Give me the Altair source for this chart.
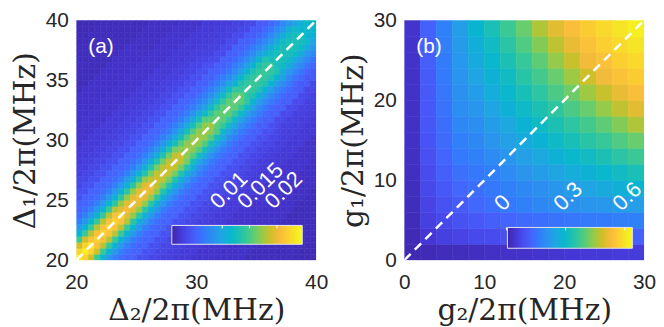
import altair as alt
import numpy as np
import pandas as pd

# ---------------- data ----------------
# Panel (a): value on the band around the diagonal.
# rows: centre position along the diagonal (Delta1+Delta2)/2  [MHz]
# cols: distance from the diagonal |Delta1-Delta2|            [MHz]
A_S = [20, 22.5, 25, 27.5, 30, 32.5, 35, 37.5, 40]
A_D = [0, 0.5, 1, 1.5, 2, 2.5, 3, 3.5, 4, 5, 6, 7, 8, 10, 12, 15, 20]
A_VAL_E3 = [
    [23.9, 22.2, 18.9, 14.6, 11.3, 8.9, 7.2, 6.0, 5.3, 4.1, 3.4, 2.9, 2.6, 2.1, 1.9, 1.5, 1.3],
    [22.2, 21.0, 18.2, 14.4, 11.3, 8.9, 7.2, 6.0, 5.3, 4.1, 3.4, 2.9, 2.6, 2.1, 1.9, 1.5, 1.3],
    [20.6, 19.6, 17.2, 13.9, 11.0, 8.9, 7.2, 6.0, 5.3, 4.1, 3.4, 2.9, 2.6, 2.1, 1.9, 1.5, 1.3],
    [19.1, 18.4, 16.3, 13.4, 10.8, 8.7, 7.2, 6.0, 5.3, 4.1, 3.4, 2.9, 2.6, 2.1, 1.9, 1.5, 1.3],
    [17.5, 17.0, 15.3, 12.7, 10.3, 8.4, 7.0, 6.0, 5.3, 4.1, 3.4, 2.9, 2.6, 2.1, 1.9, 1.5, 1.3],
    [15.8, 15.6, 14.1, 12.0, 9.8, 8.2, 7.0, 6.0, 5.1, 4.0, 3.3, 2.8, 2.5, 2.1, 1.8, 1.5, 1.3],
    [14.4, 14.1, 13.2, 11.3, 9.4, 7.9, 6.8, 5.8, 5.1, 3.6, 3.0, 2.7, 2.5, 2.0, 1.8, 1.5, 1.3],
    [12.9, 12.7, 12.0, 10.6, 8.9, 7.7, 6.5, 5.6, 4.8, 3.5, 3.0, 2.6, 2.3, 2.0, 1.8, 1.5, 1.3],
    [11.7, 11.5, 11.0, 9.8, 8.4, 7.2, 6.3, 5.3, 4.6, 3.4, 2.9, 2.5, 2.2, 1.8, 1.6, 1.5, 1.3],
]

# Panel (b): grid of cell centres g1 (rows) x g2 (cols), MHz
B_G = [1, 3, 5, 7, 9, 11, 13, 15, 17, 19, 21, 23, 25, 27, 29]
B_VAL = [
    [0.015, 0.018, 0.021, 0.024, 0.027, 0.030, 0.033, 0.036, 0.039, 0.042, 0.045, 0.048, 0.050, 0.052, 0.054],
    [0.018, 0.045, 0.062, 0.068, 0.078, 0.084, 0.090, 0.097, 0.103, 0.106, 0.109, 0.113, 0.116, 0.119, 0.122],
    [0.020, 0.062, 0.078, 0.094, 0.106, 0.119, 0.128, 0.138, 0.144, 0.151, 0.157, 0.163, 0.166, 0.173, 0.176],
    [0.022, 0.068, 0.094, 0.113, 0.132, 0.147, 0.163, 0.176, 0.189, 0.198, 0.208, 0.214, 0.220, 0.227, 0.233],
    [0.024, 0.078, 0.106, 0.132, 0.144, 0.160, 0.176, 0.189, 0.201, 0.217, 0.230, 0.246, 0.258, 0.271, 0.284],
    [0.026, 0.084, 0.119, 0.147, 0.160, 0.176, 0.195, 0.214, 0.230, 0.246, 0.265, 0.277, 0.293, 0.309, 0.328],
    [0.028, 0.090, 0.128, 0.163, 0.176, 0.195, 0.217, 0.236, 0.255, 0.274, 0.293, 0.309, 0.331, 0.350, 0.369],
    [0.030, 0.097, 0.138, 0.176, 0.189, 0.214, 0.236, 0.258, 0.280, 0.303, 0.325, 0.347, 0.366, 0.388, 0.410],
    [0.031, 0.103, 0.144, 0.189, 0.201, 0.230, 0.255, 0.280, 0.306, 0.331, 0.353, 0.378, 0.401, 0.429, 0.461],
    [0.032, 0.106, 0.151, 0.198, 0.217, 0.246, 0.274, 0.303, 0.331, 0.356, 0.385, 0.410, 0.442, 0.473, 0.505],
    [0.033, 0.109, 0.157, 0.208, 0.230, 0.265, 0.293, 0.325, 0.353, 0.385, 0.413, 0.448, 0.480, 0.511, 0.537],
    [0.034, 0.113, 0.163, 0.214, 0.246, 0.277, 0.309, 0.347, 0.378, 0.410, 0.448, 0.486, 0.521, 0.543, 0.562],
    [0.035, 0.116, 0.166, 0.220, 0.258, 0.293, 0.331, 0.366, 0.401, 0.442, 0.480, 0.521, 0.543, 0.568, 0.581],
    [0.036, 0.119, 0.173, 0.227, 0.271, 0.309, 0.350, 0.388, 0.429, 0.473, 0.511, 0.543, 0.568, 0.584, 0.600],
    [0.037, 0.122, 0.176, 0.233, 0.284, 0.328, 0.369, 0.410, 0.461, 0.505, 0.537, 0.562, 0.581, 0.600, 0.619],
]

# axes, colour bars and guide lines
A_RANGE = [20, 40]
B_RANGE = [0, 30]
A_XTICKS = [20, 30, 40]
A_YTICKS = [20, 25, 30, 35, 40]
B_TICKS = [0, 10, 20, 30]
A_DIAG = [20, 40]
B_DIAG = [0, 30]
CB_A_DOMAIN = [0.0008, 0.0246]
CB_A_TICKS = [0.01, 0.015, 0.02]
CB_A_LABELS = ["0.01", "0.015", "0.02"]
CB_B_DOMAIN = [0.005, 0.638]
CB_B_TICKS = [0.0, 0.3, 0.6]
CB_B_LABELS = ["0", "0.3", "0.6"]

# ---------------- styles ----------------
PARULA = ["#3e26a8", "#4537d5", "#484df0", "#4563fd", "#327cfc", "#2b91ef",
          "#20a5e3", "#08b5d0", "#19bfb6", "#37c897", "#64cd6f", "#9dc943",
          "#d1bf27", "#f8ba3d", "#fccf30", "#f5e924", "#f9fb15"]
PARULA_POS = [0, 4, 8, 12, 16, 20, 24, 28, 32, 36, 40, 44, 48, 52, 56, 60, 63]
PARULA_POS = [p / 63 for p in PARULA_POS]

W = 242
H = 242
LABEL_FONT = "Liberation Sans"
TITLE_FONT = "DejaVu Serif"
TXT = "#262626"
CELL_A = 0.5  # rendering cell size for panel (a), MHz


def nearest(arr, v):
    return int(np.argmin(np.abs(np.asarray(arr, dtype=float) - v)))


# cells of panel (a) (each cell shows the table entry nearest to it)
rows = []
edges = np.arange(A_RANGE[0], A_RANGE[1], CELL_A)
for x0 in edges:
    for y0 in edges:
        xc, yc = x0 + CELL_A / 2, y0 + CELL_A / 2
        v = A_VAL_E3[nearest(A_S, (xc + yc) / 2)][nearest(A_D, abs(yc - xc))] * 1e-3
        rows.append({"x0": x0, "x1": x0 + CELL_A, "y0": y0, "y1": y0 + CELL_A, "v": v})
cells_a = pd.DataFrame(rows)

rows = []
half = (B_G[1] - B_G[0]) / 2
for i, g1 in enumerate(B_G):
    for j, g2 in enumerate(B_G):
        rows.append({"x0": g2 - half, "x1": g2 + half, "y0": g1 - half, "y1": g1 + half,
                     "v": B_VAL[i][j]})
cells_b = pd.DataFrame(rows)


def panel(cells, rng, xticks, yticks, xtitle, ytitle, diag, letter,
          cb_dom, cb_ticks, cb_labels, cb_xf, cb_yf):
    stops = [cb_dom[0] + p * (cb_dom[1] - cb_dom[0]) for p in PARULA_POS]
    cscale = alt.Scale(domain=stops, range=PARULA, interpolate="rgb", clamp=True)
    xs = alt.Scale(domain=rng, nice=False, zero=False)
    ys = alt.Scale(domain=rng, nice=False, zero=False)
    cb_x = [cb_xf[0] * W, cb_xf[1] * W]
    cb_y = [round(cb_yf[0] * H), round(cb_yf[1] * H)]

    heat = alt.Chart(cells).mark_rect(clip=True, strokeWidth=0.6).encode(
        x=alt.X("x0:Q", scale=xs, title=xtitle,
                axis=alt.Axis(values=xticks, labelFlush=False)),
        x2="x1:Q",
        y=alt.Y("y0:Q", scale=ys, title=ytitle,
                axis=alt.Axis(values=yticks, labelFlush=False)),
        y2="y1:Q",
        color=alt.Color("v:Q", scale=cscale, legend=None),
        stroke=alt.Stroke("v:Q", scale=cscale, legend=None),
    )

    dline = alt.Chart(pd.DataFrame({"x": diag, "y": diag})).mark_line(
        color="white", strokeDash=[9, 6], strokeWidth=2.5, clip=True
    ).encode(
        x=alt.X("x:Q", scale=xs, axis=None),
        y=alt.Y("y:Q", scale=ys, axis=None),
    )

    tag = alt.Chart(pd.DataFrame({"t": [letter]})).mark_text(
        align="left", baseline="middle", font=LABEL_FONT, fontSize=21, color="white"
    ).encode(x=alt.value(12), y=alt.value(27), text="t:N")

    cbs = alt.Scale(domain=cb_dom, range=cb_x, nice=False, zero=False)
    grad = alt.LinearGradient(
        gradient="linear", x1=0, x2=1, y1=0, y2=0,
        stops=[alt.GradientStop(color=c, offset=o) for c, o in zip(PARULA, PARULA_POS)],
    )
    cbar = alt.Chart(pd.DataFrame({"lo": [cb_dom[0]], "hi": [cb_dom[1]]})).mark_rect(
        fill=grad, stroke="#e4e4ee", strokeWidth=1
    ).encode(
        x=alt.X("lo:Q", scale=cbs, axis=None), x2="hi:Q",
        y=alt.value(cb_y[0]), y2=alt.value(cb_y[1]),
    )
    tick_df = pd.DataFrame({"v": cb_ticks, "lab": cb_labels})
    cticks = alt.Chart(tick_df).mark_rule(color="white", strokeWidth=1).encode(
        x=alt.X("v:Q", scale=cbs, axis=None),
        y=alt.value(cb_y[0]), y2=alt.value(cb_y[0] + 3),
    )
    clabs = alt.Chart(tick_df).mark_text(
        align="left", baseline="middle", angle=315, dy=-12, font=LABEL_FONT,
        fontSize=22, color="white"
    ).encode(
        x=alt.X("v:Q", scale=cbs, axis=None),
        y=alt.value(cb_y[0] - 12),
        text="lab:N",
    )

    return alt.layer(heat, dline, tag, cbar, cticks, clabs).resolve_scale(
        x="independent", y="independent"
    ).properties(width=W, height=H)


pa = panel(cells_a, A_RANGE, A_XTICKS, A_YTICKS, "Δ₂/2π(MHz)", "Δ₁/2π(MHz)",
           A_DIAG, "(a)", CB_A_DOMAIN, CB_A_TICKS, CB_A_LABELS,
           [0.398, 0.942], [0.857, 0.935])
pb = panel(cells_b, B_RANGE, B_TICKS, B_TICKS, "g₂/2π(MHz)", "g₁/2π(MHz)",
           B_DIAG, "(b)", CB_B_DOMAIN, CB_B_TICKS, CB_B_LABELS,
           [0.43, 0.951], [0.864, 0.951])

chart = alt.hconcat(pa, pb, spacing=10).resolve_scale(
    color="independent", stroke="independent"
).properties(
    padding={"left": 2, "top": 0, "right": 0, "bottom": 0}
).configure_view(stroke=None).configure_axis(
    labelFont=LABEL_FONT, labelFontSize=21, labelColor=TXT,
    titleFont=TITLE_FONT, titleFontSize=30, titleFontWeight="normal", titleColor=TXT,
    ticks=False, domain=False, grid=False,
).configure_axisX(labelPadding=12, titlePadding=3).configure_axisY(
    labelPadding=8, titlePadding=5
)

chart.save("out.html", embed_options={"renderer": "svg", "actions": False})
